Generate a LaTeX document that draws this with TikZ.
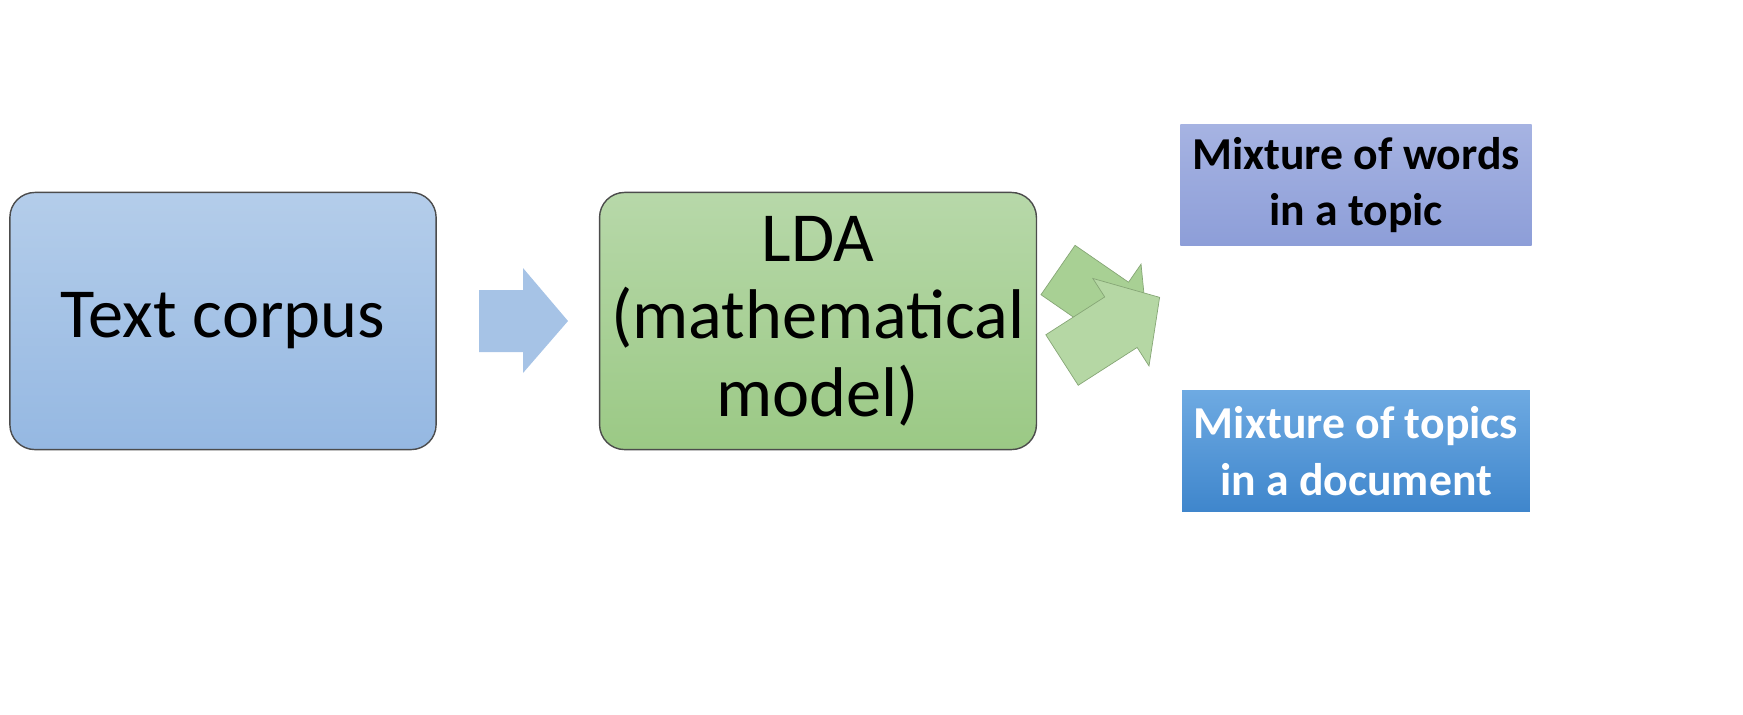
\documentclass[tikz,border=0pt]{standalone}
\usepackage{fontspec}
\setmainfont{Carlito}
\usetikzlibrary{positioning}
\definecolor{bluetop}{HTML}{B4CDEA}
\definecolor{bluebot}{HTML}{95B8E2}
\definecolor{greentop}{HTML}{B7D8A9}
\definecolor{greenbot}{HTML}{9BC985}
\definecolor{violtop}{HTML}{A6B3E2}
\definecolor{violbot}{HTML}{8D9ED8}
\definecolor{deeptop}{HTML}{6EAAE2}
\definecolor{deepbot}{HTML}{3F86CC}
\definecolor{arrowgreen}{HTML}{A8D094}
\definecolor{arrowblue}{HTML}{A6C3E6}

\begin{document}
\begin{tikzpicture}
[x=0.01cm,y=-0.01cm,
      stagebox/.style={draw=black!70,rounded corners=0.25cm,minimum width=4.26cm,
      minimum height=2.57cm,align=center,font=\fontsize{20}{22}\selectfont},
      outbox/.style={minimum width=3.44cm,minimum height=1.21cm,align=center,
      font=\fontsize{13}{16}\selectfont\bfseries},
      greenarrow/.style={fill=arrowgreen,draw=arrowgreen!80!black,line width=0.2pt}]
 \node[stagebox,top color=bluetop,bottom color=bluebot] (corpus) at (223,321) {Text corpus};
 \node[stagebox,top color=greentop,bottom color=greenbot] (lda) at (818,321)
  {LDA\\(mathematical\\model)};
 \node[outbox,top color=violtop,bottom color=violbot] (words) at (1356,185)
  {Mixture of words\\in a topic};
 \node[outbox,top color=deeptop,bottom color=deepbot,text=white] (topics) at (1356,451)
  {Mixture of topics\\in a document};
 % block arrows between the stages
 \fill[arrowblue] (479,290) -- (523,290) -- (523,268) -- (568,321) -- (523,373)
  -- (523,352) -- (479,352) -- cycle;
 \begin{scope}[shift={(1058,270)},rotate=-34.6]
  \draw[greenarrow] (0,-30) -- (65,-30) -- (65,-52) -- (109,0) -- (65,52) -- (65,30)
   -- (0,30) -- cycle;
 \end{scope}
 \begin{scope}[shift={(1062,360)},rotate=32.7]
  \draw[greenarrow,fill=arrowgreen!85] (0,-30) -- (70,-30) -- (70,-52) -- (116,0)
   -- (70,52) -- (70,30) -- (0,30) -- cycle;
 \end{scope}
 \pgfresetboundingbox
 \path[use as bounding box] (0,0) rectangle (1743,714);
\end{tikzpicture}
\end{document}
